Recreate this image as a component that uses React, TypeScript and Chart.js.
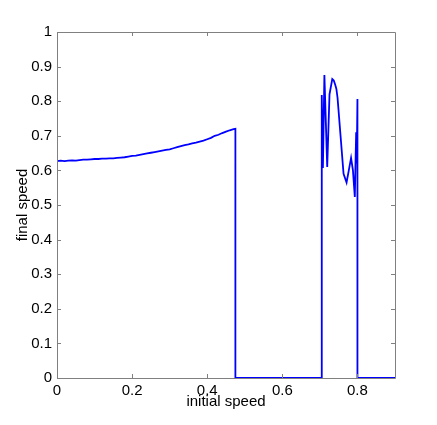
import React, { useEffect, useRef } from "react";
import { Chart, registerables } from "chart.js";

Chart.register(...registerables);

const xLabel = "initial speed";
const yLabel = "final speed";
const xTicks = [0, 0.2, 0.4, 0.6, 0.8];
const yTicks = [0, 0.1, 0.2, 0.3, 0.4, 0.5, 0.6, 0.7, 0.8, 0.9, 1];

const speedX = [
  0, 0.01, 0.02, 0.03, 0.04, 0.05, 0.06, 0.07, 0.08, 0.09, 0.1, 0.11, 0.12, 0.13, 0.14, 0.15,
  0.16, 0.17, 0.18, 0.19, 0.2, 0.21, 0.22, 0.23, 0.24, 0.25, 0.26, 0.27, 0.28, 0.29, 0.3, 0.31,
  0.32, 0.33, 0.34, 0.35, 0.36, 0.37, 0.38, 0.39, 0.4, 0.41, 0.42, 0.43, 0.44, 0.45, 0.46, 0.47,
  0.475, 0.475, 0.705, 0.705, 0.708, 0.712, 0.7195, 0.7256, 0.733, 0.737, 0.741, 0.744, 0.747,
  0.755, 0.763, 0.771, 0.777, 0.783, 0.788, 0.793, 0.7966, 0.798, 0.8, 0.8, 0.9,
];
const speedY = [
  0.627, 0.628, 0.627, 0.628, 0.629, 0.628, 0.63, 0.631, 0.631, 0.632, 0.633, 0.633, 0.634, 0.634, 0.635, 0.635,
  0.636, 0.637, 0.638, 0.64, 0.642, 0.643, 0.645, 0.647, 0.649, 0.651, 0.653, 0.655, 0.657, 0.659, 0.661, 0.664,
  0.667, 0.67, 0.673, 0.675, 0.678, 0.68, 0.683, 0.686, 0.69, 0.694, 0.7, 0.703, 0.708, 0.712, 0.716, 0.719,
  0.72, 0, 0, 0.818, 0.607, 0.876, 0.61, 0.82, 0.864, 0.86, 0.847, 0.835, 0.81,
  0.7, 0.59, 0.565, 0.6, 0.636, 0.6, 0.523, 0.71, 0.62, 0.806, 0, 0,
];

const FONT = "'Liberation Sans', Arial, Helvetica, sans-serif";
const AXIS = "#808080";

const boxPlugin = {
  id: "matlabBox",
  afterDraw(chart: any) {
    const { ctx, chartArea: a, scales } = chart;
    ctx.save();
    ctx.strokeStyle = AXIS;
    ctx.lineWidth = 1;
    const L = 4;
    ctx.beginPath();
    for (const v of xTicks) {
      const px = Math.round(scales.x.getPixelForValue(v)) + 0.5;
      ctx.moveTo(px, a.bottom);
      ctx.lineTo(px, a.bottom - L);
      ctx.moveTo(px, a.top);
      ctx.lineTo(px, a.top + L);
    }
    for (const v of yTicks) {
      const py = Math.round(scales.y.getPixelForValue(v)) + 0.5;
      ctx.moveTo(a.left, py);
      ctx.lineTo(a.left + L, py);
      ctx.moveTo(a.right, py);
      ctx.lineTo(a.right - L, py);
    }
    ctx.stroke();
    ctx.beginPath();
    ctx.rect(Math.round(a.left) + 0.5, Math.round(a.top) + 0.5, Math.round(a.right - a.left), Math.round(a.bottom - a.top));
    ctx.stroke();
    ctx.restore();
  },
};

export default function App() {
  const ref = useRef<HTMLCanvasElement>(null);
  useEffect(() => {
    const canvas = ref.current!;
    const chart = new Chart(canvas, {
      type: "line",
      data: {
        datasets: [
          {
            data: speedX.map((x, i) => ({ x, y: speedY[i] })),
            borderColor: "#0000ff",
            borderWidth: 1.8,
            pointRadius: 0,
            fill: false,
            tension: 0,
          },
        ],
      },
      options: {
        responsive: false,
        animation: false,
        devicePixelRatio: 1,
        layout: { padding: { left: 0, top: 32, right: 42, bottom: 0 } },
        plugins: { legend: { display: false }, tooltip: { enabled: false } },
        scales: {
          x: {
            type: "linear",
            min: 0,
            max: 0.9,
            afterBuildTicks: (s: any) => {
              s.ticks = xTicks.map((v) => ({ value: v }));
            },
            afterFit: (s: any) => {
              s.height = 47;
            },
            grid: { display: false, drawTicks: false },
            border: { display: false },
            ticks: {
              color: "#000",
              font: { family: FONT, size: 15 },
              padding: 4,
              maxRotation: 0,
              autoSkip: false,
              callback: (v: any) => String(v),
            },
            title: {
              display: true,
              text: xLabel,
              color: "#000",
              font: { family: FONT, size: 15 },
              padding: { top: 0, bottom: 14 },
            },
          },
          y: {
            type: "linear",
            min: 0,
            max: 1,
            afterBuildTicks: (s: any) => {
              s.ticks = yTicks.map((v) => ({ value: v }));
            },
            afterFit: (s: any) => {
              s.width = 57;
            },
            grid: { display: false, drawTicks: false },
            border: { display: false },
            ticks: {
              color: "#000",
              font: { family: FONT, size: 15 },
              padding: 5,
              autoSkip: false,
              callback: (v: any) => String(v),
            },
            title: {
              display: true,
              text: yLabel,
              color: "#000",
              font: { family: FONT, size: 15 },
              padding: { top: 14, bottom: 0 },
            },
          },
        },
      },
      plugins: [boxPlugin],
    });
    return () => chart.destroy();
  }, []);
  return (
    <div style={{ position: "absolute", left: 0, top: 0, width: 437, height: 425, background: "#fff" }}>
      <canvas ref={ref} width={437} height={425} style={{ display: "block" }} />
    </div>
  );
}
